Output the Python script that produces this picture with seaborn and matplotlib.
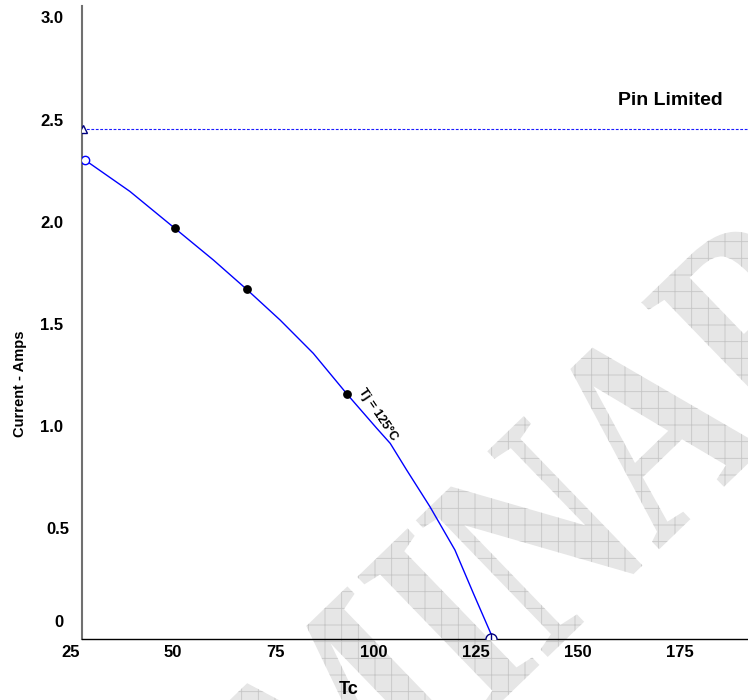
import numpy as np
import pandas as pd
import matplotlib
matplotlib.use("Agg")
import matplotlib.pyplot as plt
import matplotlib.transforms as mtransforms
from matplotlib.textpath import TextPath
from matplotlib.patches import PathPatch
from matplotlib.font_manager import FontProperties
import seaborn as sns

# =========================
# DATA
# =========================
curve_tc = [25.7, 36.7, 47.7, 57.1, 65.2, 73.4, 81.5, 89.8, 97.0, 100.3,
            104.3, 110.0, 116.1, 120.6, 124.85, 125.0]
curve_amps = [2.346, 2.192, 2.011, 1.856, 1.713, 1.562, 1.399, 1.198, 1.032, 0.958,
              0.828, 0.648, 0.436, 0.224, 0.028, 0.0]

point_tc = [47.7, 65.2, 89.8]
point_amps = [2.011, 1.713, 1.198]

start_tc, start_amps = 25.7, 2.346
end_tc, end_amps = 125.0, 0.0

pin_limit = 2.5
pin_tc = 25.2

x_ticks = [25, 50, 75, 100, 125, 150, 175]
y_ticks = [0, 0.5, 1.0, 1.5, 2.0, 2.5, 3.0]
y_tick_labels = ["0", "0.5", "1.0", "1.5", "2.0", "2.5", "3.0"]

watermark = "PRELIMINARY"

# =========================
# STYLE
# =========================
sns.set_style("white")
plt.rcParams["font.family"] = ["Liberation Sans", "DejaVu Sans"]
plt.rcParams["font.weight"] = "bold"
plt.rcParams["text.color"] = "black"
plt.rcParams["axes.labelcolor"] = "black"
plt.rcParams["xtick.color"] = "black"
plt.rcParams["ytick.color"] = "black"
plt.rcParams["hatch.linewidth"] = 0.6

W, H = 748, 700
fig = plt.figure(figsize=(W / 100, H / 100), dpi=100)
fig.patch.set_facecolor("white")

ax = fig.add_axes([82 / W, (H - 639) / H, 666 / W, 633 / H])
ax.patch.set_alpha(0)

# =========================
# WATERMARK
# =========================
tp = TextPath((0, 0), watermark, size=290, prop=FontProperties(family="Liberation Serif"))
wm_tf = mtransforms.Affine2D().scale(0.75, 1.0).rotate_deg(44).translate(-142, -623)
wm = PathPatch(tp, transform=wm_tf, facecolor="#e6e6e6", edgecolor="#c6c6c6",
               hatch="+", linewidth=0, zorder=-5)
fig.add_artist(wm)

# =========================
# CURVE + MARKERS
# =========================
df = pd.DataFrame({"tc": curve_tc, "amps": curve_amps})
sns.lineplot(data=df, x="tc", y="amps", sort=False, estimator=None,
             color="#0000ff", linewidth=1.0, ax=ax, zorder=3)

pts = pd.DataFrame({"tc": point_tc, "amps": point_amps})
sns.scatterplot(data=pts, x="tc", y="amps", color="black", s=40,
                edgecolor="black", linewidth=0, ax=ax, zorder=4)

ax.plot([start_tc], [start_amps], marker="o", markersize=6, markerfacecolor="white",
        markeredgecolor="#0000ff", markeredgewidth=1, linestyle="none", zorder=5)
ax.plot([end_tc], [end_amps], marker="o", markersize=8, markerfacecolor="white",
        markeredgecolor="#000080", markeredgewidth=1, linestyle="none", zorder=5)
ax.plot([end_tc], [end_amps], marker="|", markersize=8, markeredgecolor="#000080",
        markeredgewidth=1, linestyle="none", zorder=6)

# pin limit
ax.axhline(pin_limit, color="#1a1aff", linewidth=0.8, linestyle=(0, (2.5, 1.5)), zorder=2)
ax.plot([pin_tc], [pin_limit], marker="^", markersize=6, markerfacecolor="white",
        markeredgecolor="#000080", markeredgewidth=1, linestyle="none", zorder=5)

ax.text(168.7, 2.635, "Pin Limited", fontsize=14, fontweight="bold",
        ha="center", va="center")
ax.text(97.3, 1.10, "Tj = 125°C", fontsize=9, fontweight="bold", rotation=-56,
        rotation_mode="anchor", ha="center", va="center")

# =========================
# AXES
# =========================
ax.set_xlim(25, 187.7)
ax.set_ylim(0, 3.1)
ax.set_xticks(x_ticks)
ax.set_xticklabels([str(t) for t in x_ticks], fontsize=12, fontweight="bold")
ax.set_yticks(y_ticks)
ax.set_yticklabels(y_tick_labels, fontsize=12, fontweight="bold")

for s in ["top", "right"]:
    ax.spines[s].set_visible(False)
ax.spines["left"].set_color("#707070")
ax.spines["left"].set_linewidth(1.5)
ax.spines["bottom"].set_color("black")
ax.spines["bottom"].set_linewidth(1.0)

ax.tick_params(axis="x", direction="in", length=6, width=1, color="black", pad=4.5)
ax.tick_params(axis="y", direction="out", length=6.5, width=1, color="#333333", pad=7)

for lab in ax.get_xticklabels():
    lab.set_ha("right")
    lab.set_transform(lab.get_transform() +
                      mtransforms.ScaledTranslation(-2 / 100, 0, fig.dpi_scale_trans))
for lab in ax.get_yticklabels():
    lab.set_va("bottom")
    dx, dy = 0, 0
    if lab.get_text() == "0":
        dy = 9
    if lab.get_text() == "0.5":
        dx = 6
    if dx or dy:
        lab.set_transform(lab.get_transform() +
                          mtransforms.ScaledTranslation(dx / 100, dy / 100, fig.dpi_scale_trans))

ax.set_xlabel("Tc", fontsize=13, fontweight="bold")
ax.xaxis.set_label_coords(0.40, -0.066)
ax.set_ylabel("Current - Amps", fontsize=10.5, fontweight="bold")
ax.yaxis.set_label_coords(-0.083, 0.404)

fig.savefig("out.png", dpi=100)
